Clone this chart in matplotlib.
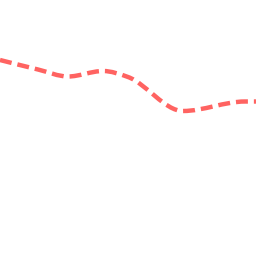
import matplotlib
matplotlib.use("Agg")
import matplotlib.pyplot as plt
from matplotlib.path import Path
from matplotlib.patches import PathPatch
import numpy as np

# data (x position, value; value axis inverted so larger = lower on screen)
x_vals = [0, 38, 68, 103, 128, 183, 245, 256]
y_vals = [60, 69.5, 76.5, 71, 77, 111, 101.5, 101.5]

def monotone_path(xs, ys):
    xs = np.asarray(xs, float); ys = np.asarray(ys, float)
    n = len(xs)
    h = np.diff(xs); d = np.diff(ys) / h
    m = np.zeros(n)
    m[0] = d[0]; m[-1] = d[-1]
    for i in range(1, n - 1):
        if d[i - 1] * d[i] <= 0:
            m[i] = 0
        else:
            s = (d[i - 1] * h[i] + d[i] * h[i - 1]) / (h[i - 1] + h[i])
            m[i] = np.sign(s) * min(abs(s), 2 * min(abs(d[i - 1]), abs(d[i])))
    verts = [(xs[0], ys[0])]; codes = [Path.MOVETO]
    for i in range(n - 1):
        dx = h[i] / 3
        verts += [(xs[i] + dx, ys[i] + m[i] * dx), (xs[i + 1] - dx, ys[i + 1] - m[i + 1] * dx), (xs[i + 1], ys[i + 1])]
        codes += [Path.CURVE4] * 3
    return Path(verts, codes)

fig = plt.figure(figsize=(2.56, 2.56), dpi=100)
ax = fig.add_axes([0, 0, 1, 1])
ax.set_xlim(0, 256)
ax.set_ylim(256, 0)
ax.axis("off")
lw = 3.2
patch = PathPatch(monotone_path(x_vals, y_vals), fill=False, edgecolor="#ff6361",
                  linewidth=lw, linestyle=(0, (8.6 / lw, 4.3 / lw)), capstyle="butt")
ax.add_patch(patch)
fig.savefig("out.png", dpi=100)
